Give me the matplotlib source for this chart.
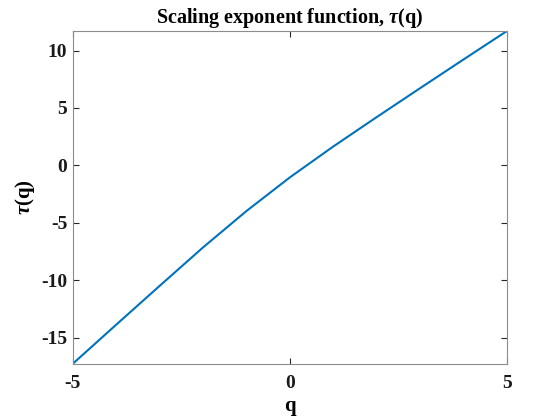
import matplotlib
matplotlib.use("Agg")
import matplotlib.pyplot as plt

# values
q = [-5, -4, -3, -2, -1, 0, 1, 2, 3, 4, 5]
tau = [-17.28, -13.88, -10.5, -7.15, -3.98, -1.05, 1.64, 4.2, 6.72, 9.22, 11.7]
xticks = [-5, 0, 5]
yticks = [-15, -10, -5, 0, 5, 10]

plt.rcParams['font.family'] = ['Liberation Serif', 'DejaVu Serif']
plt.rcParams['font.weight'] = 'bold'
plt.rcParams['mathtext.fontset'] = 'custom'
plt.rcParams['mathtext.rm'] = 'Liberation Serif:bold'
plt.rcParams['mathtext.it'] = 'Liberation Serif:italic:bold'

fig = plt.figure(figsize=(5.6, 4.2), dpi=100)
ax = fig.add_axes([0.130, 0.134, 0.775, 0.792])

ax.plot(q, tau, color='#0072BD', linewidth=1.5)

ax.set_xlim(q[0], q[-1])
ax.set_ylim(tau[0], tau[-1])
ax.set_xticks(xticks)
ax.set_yticks(yticks)
ax.set_xticklabels([str(t) for t in xticks])
ax.set_yticklabels([str(t) for t in yticks])

for s in ax.spines.values():
    s.set_color('#8c8c8c')
    s.set_linewidth(0.8)
ax.tick_params(direction='in', length=4, width=0.8, color='#262626',
               top=True, right=True, labelsize=14, labelcolor='#1a1a1a')
ax.tick_params(axis='x', pad=8)
ax.tick_params(axis='y', pad=4)

ax.set_title(r'Scaling exponent function, $\tau$(q)', fontsize=14.5, fontweight='bold', pad=6)
ax.set_xlabel('q', fontsize=15, fontweight='bold', labelpad=3)
ax.set_ylabel(r'$\tau$(q)', fontsize=15, fontweight='bold', labelpad=3)

fig.savefig('out.png', dpi=100)
